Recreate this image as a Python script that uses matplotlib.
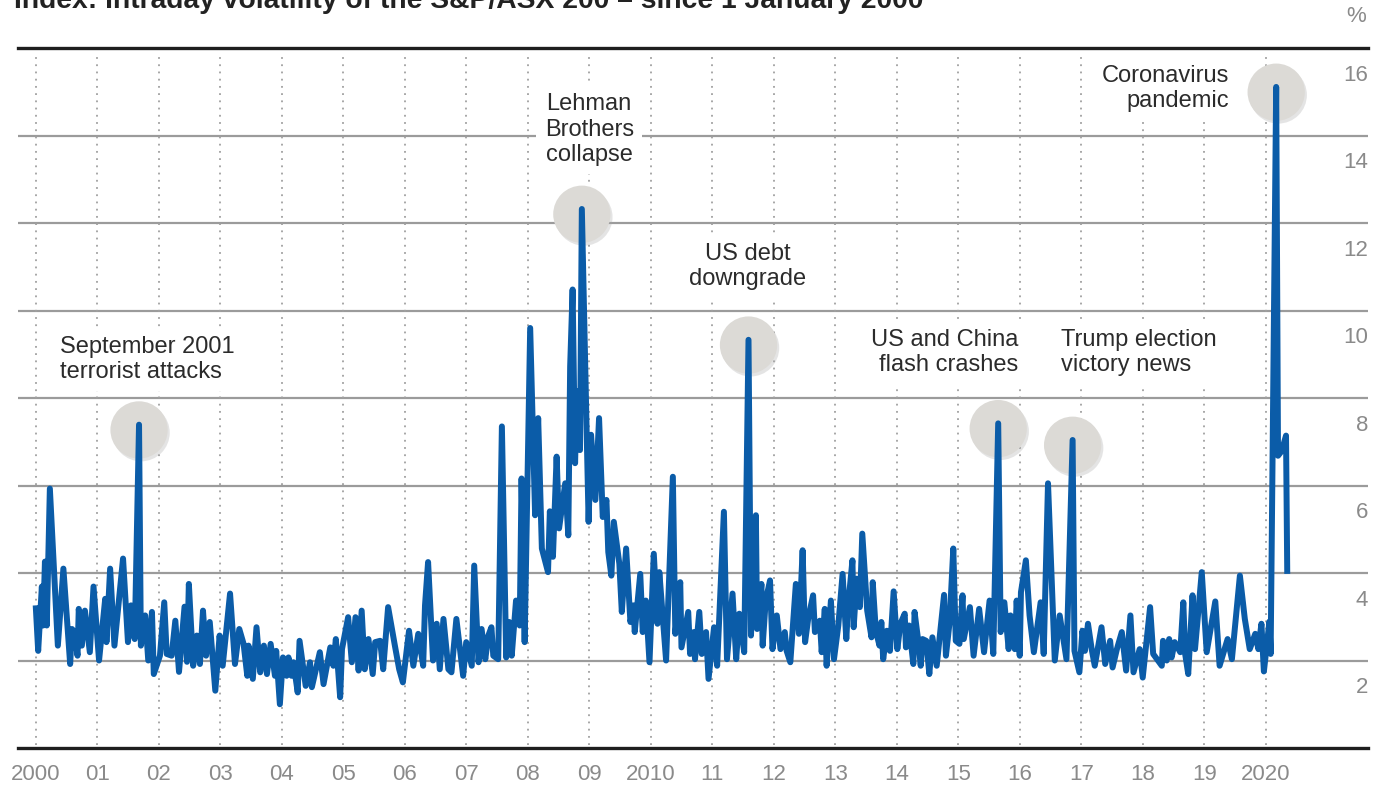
import matplotlib
matplotlib.use("Agg")
import matplotlib.pyplot as plt
import matplotlib.patheffects as pe
import numpy as np

plt.rcParams['font.family'] = ['Liberation Sans', 'DejaVu Sans']

# intraday volatility of the S&P/ASX 200, %
dates = [
    2000.00, 2000.04, 2000.10, 2000.12, 2000.15, 2000.18, 2000.23, 2000.36, 2000.45, 2000.56,
    2000.59, 2000.63, 2000.68, 2000.70, 2000.75, 2000.80, 2000.88, 2000.94, 2001.03, 2001.13,
    2001.15, 2001.21, 2001.28, 2001.42, 2001.50, 2001.55, 2001.61, 2001.68, 2001.71, 2001.78,
    2001.83, 2001.89, 2001.92, 2002.02, 2002.09, 2002.13, 2002.21, 2002.27, 2002.33, 2002.42,
    2002.46, 2002.49, 2002.56, 2002.62, 2002.67, 2002.72, 2002.77, 2002.83, 2002.92, 2002.99,
    2003.04, 2003.16, 2003.24, 2003.31, 2003.38, 2003.44, 2003.46, 2003.53, 2003.59, 2003.65,
    2003.71, 2003.76, 2003.82, 2003.89, 2003.91, 2003.97, 2004.02, 2004.08, 2004.11, 2004.16,
    2004.19, 2004.26, 2004.29, 2004.39, 2004.46, 2004.49, 2004.62, 2004.68, 2004.79, 2004.84,
    2004.88, 2004.95, 2004.98, 2005.08, 2005.14, 2005.20, 2005.25, 2005.30, 2005.35, 2005.41,
    2005.48, 2005.52, 2005.60, 2005.65, 2005.73, 2005.84, 2005.91, 2005.97, 2006.07, 2006.14,
    2006.22, 2006.30, 2006.33, 2006.38, 2006.46, 2006.52, 2006.57, 2006.63, 2006.71, 2006.76,
    2006.84, 2006.95, 2007.00, 2007.09, 2007.13, 2007.20, 2007.25, 2007.31, 2007.36, 2007.41,
    2007.44, 2007.52, 2007.58, 2007.65, 2007.70, 2007.74, 2007.81, 2007.87, 2007.90, 2007.95,
    2008.04, 2008.12, 2008.17, 2008.23, 2008.33, 2008.36, 2008.41, 2008.47, 2008.51, 2008.61,
    2008.66, 2008.69, 2008.73, 2008.77, 2008.80, 2008.85, 2008.88, 2008.99, 2009.03, 2009.10,
    2009.16, 2009.22, 2009.28, 2009.31, 2009.36, 2009.40, 2009.49, 2009.53, 2009.60, 2009.67,
    2009.72, 2009.74, 2009.83, 2009.87, 2009.92, 2009.98, 2010.05, 2010.11, 2010.14, 2010.25,
    2010.36, 2010.40, 2010.48, 2010.50, 2010.61, 2010.64, 2010.70, 2010.72, 2010.79, 2010.83,
    2010.90, 2010.94, 2011.03, 2011.08, 2011.19, 2011.24, 2011.33, 2011.39, 2011.44, 2011.52,
    2011.59, 2011.63, 2011.71, 2011.73, 2011.80, 2011.82, 2011.87, 2011.94, 2011.98, 2012.05,
    2012.11, 2012.18, 2012.21, 2012.27, 2012.36, 2012.41, 2012.47, 2012.51, 2012.56, 2012.64,
    2012.67, 2012.75, 2012.78, 2012.83, 2012.86, 2012.93, 2012.98, 2013.05, 2013.12, 2013.18,
    2013.21, 2013.28, 2013.30, 2013.35, 2013.40, 2013.44, 2013.52, 2013.59, 2013.61, 2013.66,
    2013.72, 2013.75, 2013.78, 2013.84, 2013.89, 2013.95, 2014.01, 2014.06, 2014.13, 2014.15,
    2014.20, 2014.27, 2014.29, 2014.35, 2014.39, 2014.42, 2014.48, 2014.53, 2014.58, 2014.65,
    2014.77, 2014.80, 2014.86, 2014.92, 2014.96, 2015.02, 2015.07, 2015.09, 2015.19, 2015.25,
    2015.34, 2015.42, 2015.51, 2015.57, 2015.65, 2015.69, 2015.75, 2015.82, 2015.85, 2015.92,
    2015.95, 2016.00, 2016.02, 2016.10, 2016.16, 2016.23, 2016.34, 2016.39, 2016.46, 2016.57,
    2016.65, 2016.76, 2016.86, 2016.89, 2016.97, 2017.02, 2017.06, 2017.11, 2017.17, 2017.22,
    2017.33, 2017.39, 2017.47, 2017.51, 2017.58, 2017.66, 2017.73, 2017.80, 2017.85, 2017.95,
    2018.00, 2018.12, 2018.17, 2018.31, 2018.33, 2018.39, 2018.43, 2018.47, 2018.52, 2018.61,
    2018.66, 2018.69, 2018.74, 2018.81, 2018.85, 2018.96, 2019.04, 2019.18, 2019.25, 2019.38,
    2019.45, 2019.58, 2019.66, 2019.74, 2019.83, 2019.88, 2019.93, 2019.97, 2020.06, 2020.08,
    2020.17, 2020.20, 2020.26, 2020.33, 2020.35,
]
volatility = [
    3.26, 2.22, 3.69, 2.80, 4.26, 2.80, 5.93, 2.34, 4.10, 1.92,
    2.72, 2.65, 2.11, 3.18, 2.34, 3.14, 2.19, 3.69, 2.00, 3.41,
    2.42, 4.10, 2.34, 4.33, 2.42, 3.26, 2.49, 7.39, 2.34, 3.03,
    2.00, 3.11, 1.69, 2.11, 3.33, 2.15, 2.11, 2.91, 1.74, 3.23,
    1.97, 3.75, 1.88, 2.57, 1.92, 3.14, 2.11, 2.88, 1.31, 2.57,
    1.88, 3.53, 1.92, 2.72, 2.38, 1.65, 2.34, 1.58, 2.76, 1.73,
    2.34, 1.69, 2.38, 1.65, 2.22, 1.00, 2.07, 1.65, 2.07, 1.65,
    1.96, 1.27, 2.45, 1.42, 1.96, 1.39, 2.19, 1.46, 2.30, 1.88,
    2.49, 1.16, 2.26, 2.99, 1.96, 2.99, 1.77, 3.14, 1.80, 2.49,
    1.69, 2.42, 2.45, 1.80, 3.22, 2.34, 1.80, 1.50, 2.68, 1.88,
    2.61, 1.88, 3.26, 4.25, 2.00, 2.84, 1.80, 2.95, 1.80, 1.73,
    2.95, 1.65, 2.42, 1.88, 4.17, 1.96, 2.72, 2.03, 2.57, 2.76,
    2.11, 2.03, 7.35, 2.07, 2.88, 2.11, 3.37, 2.80, 6.16, 2.42,
    9.60, 5.32, 7.54, 4.56, 4.02, 5.41, 4.37, 6.66, 5.02, 6.05,
    4.86, 8.72, 10.48, 6.51, 8.16, 6.81, 12.32, 5.17, 7.16, 5.67,
    7.54, 5.28, 5.67, 4.48, 3.94, 5.17, 4.21, 3.11, 4.56, 2.88,
    3.26, 2.65, 3.98, 2.65, 3.37, 1.96, 4.44, 2.84, 4.02, 2.00,
    6.20, 2.61, 3.79, 2.30, 3.11, 2.15, 2.65, 2.03, 3.11, 2.15,
    2.65, 1.58, 2.76, 1.88, 5.40, 2.03, 3.53, 2.03, 3.07, 2.19,
    9.33, 2.57, 5.32, 2.72, 3.75, 2.34, 3.37, 3.83, 2.26, 3.03,
    2.26, 2.65, 2.22, 1.96, 3.75, 2.61, 4.52, 2.42, 2.95, 3.49,
    2.65, 2.91, 2.19, 3.18, 1.88, 3.37, 2.03, 2.80, 3.98, 2.49,
    3.26, 4.29, 2.76, 3.87, 3.22, 4.90, 3.14, 2.53, 3.79, 2.68,
    2.34, 2.88, 2.03, 2.68, 2.22, 3.58, 2.26, 2.84, 3.07, 2.30,
    2.80, 1.92, 3.11, 2.45, 1.88, 2.49, 2.45, 1.69, 2.53, 1.88,
    3.50, 2.11, 2.88, 4.56, 2.45, 2.38, 3.49, 2.49, 3.22, 2.11,
    3.18, 2.19, 3.37, 2.15, 7.42, 2.65, 3.33, 2.26, 3.03, 2.26,
    3.37, 2.11, 3.56, 4.29, 3.03, 2.19, 3.33, 2.15, 6.05, 2.00,
    3.03, 2.03, 7.04, 2.22, 1.73, 2.68, 2.22, 2.84, 2.26, 1.88,
    2.76, 1.92, 2.45, 1.84, 2.26, 2.65, 1.77, 3.03, 1.73, 2.26,
    1.61, 3.22, 2.15, 1.88, 2.45, 2.00, 2.49, 2.07, 2.42, 2.19,
    3.33, 2.15, 1.69, 3.49, 2.26, 4.02, 2.19, 3.35, 1.88, 2.49,
    2.03, 3.94, 2.95, 2.26, 2.61, 2.26, 2.84, 1.75, 2.89, 2.15,
    15.11, 6.68, 6.79, 7.14, 3.98,
]

events = ['September 2001\nterrorist attacks', 'Lehman\nBrothers\ncollapse',
          'US debt\ndowngrade', 'US and China\nflash crashes',
          'Trump election\nvictory news', 'Coronavirus\npandemic']
event_dates = [2001.68, 2008.88, 2011.59, 2015.65, 2016.86, 2020.17]

years = list(range(2000, 2021))
year_labels = ['2000', '01', '02', '03', '04', '05', '06', '07', '08', '09', '2010',
               '11', '12', '13', '14', '15', '16', '17', '18', '19', '2020']
y_ticks = [2, 4, 6, 8, 10, 12, 14, 16]

title = 'Index: Intraday volatility of the S&P/ASX 200 \u2013 since 1 January 2000'

fig = plt.figure(figsize=(13.85, 7.87), dpi=100)
ax = fig.add_axes([18 / 1385, 1 - 748 / 787, 1350 / 1385, 700 / 787])
x0, x1 = 1999.712, 2021.663
ax.set_xlim(x0, x1)
ax.set_ylim(0, 16)
ax.axis('off')

# horizontal grid
for v in y_ticks[:-1]:
    ax.axhline(v, color='#9b9b9b', lw=1.6, zorder=1)
ax.axhline(0, color='#1e1e1e', lw=2.4, zorder=2, clip_on=False)
ax.axhline(16, color='#1e1e1e', lw=2.4, zorder=2, clip_on=False)

# dotted year lines
for yr in years:
    ax.axvline(yr, ymin=0.005, ymax=0.995, color='#a0a0a0', lw=1.3,
               linestyle=(0, (1, 3)), zorder=1)

# highlight circles
shadow = [pe.SimplePatchShadow(offset=(1.5, -2), shadow_rgbFace='#a8a8a8', alpha=0.3),
          pe.Normal()]
peak_vals = np.interp(event_dates, dates, volatility)
ax.scatter(event_dates, peak_vals - 0.12, s=1700, color='#dcdad6', edgecolors='none',
           zorder=3, path_effects=shadow)

ax.plot(dates, volatility, color='#0b5ca8', lw=4.3, solid_joinstyle='round',
        solid_capstyle='butt', zorder=5)

# annotations (white box hides the grid behind)
box = dict(facecolor='white', edgecolor='none', pad=6)
txt = dict(fontsize=17, color='#2b2b2b', va='center', zorder=2.5, bbox=box)
ax.text(2000.40, 8.88, events[0], ha='left', **txt)
ax.text(2009.00, 14.13, events[1], ha='center', multialignment='center', **txt)
ax.text(2011.58, 11.01, events[2], ha='center', multialignment='center', **txt)
ax.text(2015.97, 9.04, events[3], ha='right', multialignment='right', **txt)
ax.text(2016.67, 9.04, events[4], ha='left', **txt)
ax.text(2019.40, 15.08, events[5], ha='right', multialignment='right', **txt)

# y labels under their grid lines, right side
for v in y_ticks:
    ax.text(x1, v - 0.62, str(v), ha='right', va='center', fontsize=16, color='#8a8a8a')
ax.text(x1 - 0.03, 16.71, '%', ha='right', va='center', fontsize=16, color='#8a8a8a',
        clip_on=False)

# x labels
for yr, lab in zip(years, year_labels):
    ax.text(yr, -0.61, lab, ha='center', va='center', fontsize=16, color='#8a8a8a',
            clip_on=False)

fig.text(14 / 1385, 1 - 8 / 787, title, ha='left', va='baseline', fontsize=20.3,
         color='#222222', weight='bold')

fig.savefig('out.png', dpi=100)
